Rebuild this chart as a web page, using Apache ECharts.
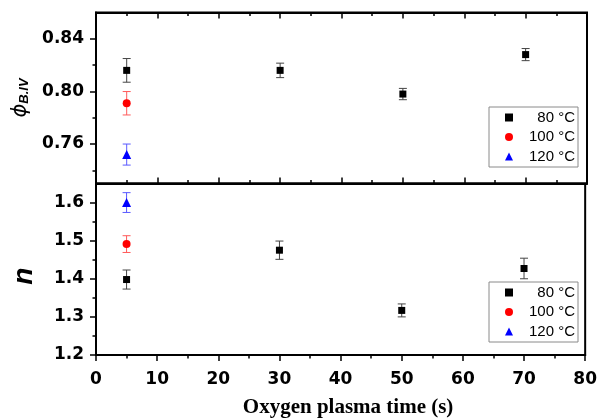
<!DOCTYPE html>
<html>
<head>
<meta charset="utf-8">
<script src="https://cdn.jsdelivr.net/npm/echarts@6/dist/echarts.min.js"></script>
<style>html,body{margin:0;padding:0;background:#fff}#c{width:600px;height:419px}</style>
</head>
<body>
<div id="c"></div>
<script>
// ---- data ----
const seriesNames = ['80 °C', '100 °C', '120 °C'];
const time80 = [5, 30, 50, 70];
const time100 = [5];
const time120 = [5];
const phi80 = [0.816, 0.816, 0.798, 0.828];
const phi80Err = [0.009, 0.0055, 0.0043, 0.0046];
const phi100 = [0.791];
const phi100Err = [0.0089];
const phi120 = [0.752];
const phi120Err = [0.008];
const n80 = [1.398, 1.475, 1.317, 1.427];
const n80Err = [0.025, 0.024, 0.017, 0.027];
const n100 = [1.491];
const n100Err = [0.022];
const n120 = [1.600];
const n120Err = [0.026];
const xTicks = [0, 10, 20, 30, 40, 50, 60, 70, 80];
const phiMajor = [0.76, 0.80, 0.84];
const phiMinor = [0.74, 0.78, 0.82];
const nMajor = [1.2, 1.3, 1.4, 1.5, 1.6];
const nMinor = [1.25, 1.35, 1.45, 1.55];

// ---- build ----
const zip = (xs, ys) => xs.map((x, i) => [x, ys[i]]);
const zip3 = (xs, ys, es) => xs.map((x, i) => [x, ys[i], es[i]]);
const colors = ['#000000', '#ff0000', '#0000ff'];
const barColors = ['#444444', '#ff5a5a', '#5a5aff'];
const symbols = ['rect', 'circle', 'triangle'];
const sizes = [7, 8, 9];

function errSeries(data, xi, yi, color) {
  return {
    type: 'custom', xAxisIndex: xi, yAxisIndex: yi, silent: true, z: 1,
    data: data,
    renderItem: function (params, api) {
      const x = api.value(0), y = api.value(1), e = api.value(2);
      const top = api.coord([x, y + e]);
      const bot = api.coord([x, y - e]);
      const w = 4;
      const st = { stroke: color, lineWidth: 1 };
      return {
        type: 'group',
        children: [
          { type: 'line', shape: { x1: top[0], y1: top[1], x2: bot[0], y2: bot[1] }, style: st },
          { type: 'line', shape: { x1: top[0] - w, y1: top[1], x2: top[0] + w, y2: top[1] }, style: st },
          { type: 'line', shape: { x1: bot[0] - w, y1: bot[1], x2: bot[0] + w, y2: bot[1] }, style: st }
        ]
      };
    }
  };
}
function scat(name, data, xi, yi, k) {
  return {
    name: name, type: 'scatter', xAxisIndex: xi, yAxisIndex: yi, z: 3,
    symbol: symbols[k], symbolSize: sizes[k],
    itemStyle: { color: colors[k], opacity: 1 },
    data: data
  };
}

const tickFont = { fontFamily: 'DejaVu Sans', fontWeight: 'bold', fontSize: 17, color: '#000' };
const lineStyle = { color: '#000', width: 2 };

const grids = [
  { left: 96, right: 13, top: 12.5, height: 171, show: true, borderColor: '#000', borderWidth: 2 },
  { left: 96, right: 13, top: 183.5, height: 171.5, show: true, borderColor: '#000', borderWidth: 2 }
];

const xBase = { type: 'value', min: 0, max: 80, interval: 10, splitLine: { show: false } };
const xAxes = [
  Object.assign({}, xBase, { gridIndex: 0, position: 'bottom',
    axisLine: { lineStyle: lineStyle }, axisLabel: { show: false },
    axisTick: { inside: true, length: 6, lineStyle: { color: '#000', width: 1.5 } },
    minorTick: { show: true, splitNumber: 2, length: 3.5, lineStyle: { color: '#000', width: 1.5 } } }),
  Object.assign({}, xBase, { gridIndex: 0, position: 'top',
    axisLine: { lineStyle: lineStyle }, axisLabel: { show: false },
    axisTick: { inside: true, length: 6, lineStyle: { color: '#000', width: 1.5 } },
    minorTick: { show: true, splitNumber: 2, length: 3.5, lineStyle: { color: '#000', width: 1.5 } } }),
  Object.assign({}, xBase, { gridIndex: 1, position: 'bottom',
    axisLine: { lineStyle: lineStyle },
    axisLabel: Object.assign({ margin: 16, customValues: xTicks }, tickFont),
    axisTick: { inside: false, length: 6, lineStyle: { color: '#000', width: 1.5 } },
    minorTick: { show: true, splitNumber: 2, length: 3.5, lineStyle: { color: '#000', width: 1.5 } },
    name: 'Oxygen plasma time (s)', nameLocation: 'middle', nameGap: 42,
    nameTextStyle: { fontFamily: 'Liberation Serif', fontWeight: 'bold', fontSize: 21, color: '#000', padding: [0, 0, 0, 15] } })
];

const yAxes = [
  { type: 'value', gridIndex: 0, min: 0.73, max: 0.86, position: 'left', splitLine: { show: false },
    axisLine: { lineStyle: lineStyle },
    axisLabel: Object.assign({ margin: 12, customValues: phiMajor, formatter: v => v.toFixed(2) }, tickFont),
    axisTick: { length: 6, customValues: phiMajor, lineStyle: { color: '#000', width: 1.5 } },
    name: '{p|ϕ}{s|B.IV}', nameLocation: 'middle', nameGap: 61, nameRotate: 90,
    nameTextStyle: { rich: {
      p: { fontFamily: 'DejaVu Sans', fontStyle: 'italic', fontSize: 21, color: '#000' },
      s: { fontFamily: 'Liberation Sans', fontStyle: 'italic', fontWeight: 'bold', fontSize: 13, color: '#000', padding: [8, 0, 0, 0] }
    } } },
  { type: 'value', gridIndex: 0, min: 0.73, max: 0.86, position: 'left', splitLine: { show: false },
    axisLine: { show: false }, axisLabel: { show: false },
    axisTick: { length: 3.5, customValues: phiMinor, lineStyle: { color: '#000', width: 1.5 } } },
  { type: 'value', gridIndex: 1, min: 1.2, max: 1.65, position: 'left', splitLine: { show: false },
    axisLine: { lineStyle: lineStyle },
    axisLabel: Object.assign({ margin: 12, customValues: nMajor, formatter: v => v.toFixed(1) }, tickFont),
    axisTick: { length: 6, customValues: nMajor, lineStyle: { color: '#000', width: 1.5 } },
    name: 'n', nameLocation: 'middle', nameGap: 58, nameRotate: 90,
    nameTextStyle: { fontFamily: 'Liberation Sans', fontStyle: 'italic', fontWeight: 'bold', fontSize: 28, color: '#000', padding: [0, 14, 0, 0] } },
  { type: 'value', gridIndex: 1, min: 1.2, max: 1.65, position: 'left', splitLine: { show: false },
    axisLine: { show: false }, axisLabel: { show: false },
    axisTick: { length: 3.5, customValues: nMinor, lineStyle: { color: '#000', width: 1.5 } } }
];

function legendAt(top) {
  return {
    orient: 'vertical', left: 489, top: top,
    padding: [3, 3, 3, 16], itemWidth: 8, itemHeight: 8, itemGap: 4.5,
    itemTextGap: 8, borderColor: '#8a8a8a', borderWidth: 1, backgroundColor: '#fff',
    selectedMode: false,
    data: seriesNames,
    formatter: name => '{r|' + name + '}',
    textStyle: { rich: { r: { width: 57, align: 'right', fontFamily: 'Liberation Sans', fontSize: 15, lineHeight: 18, color: '#000' } } }
  };
}

const series = [
  errSeries(zip3(time80, phi80, phi80Err), 0, 0, barColors[0]),
  errSeries(zip3(time100, phi100, phi100Err), 0, 0, barColors[1]),
  errSeries(zip3(time120, phi120, phi120Err), 0, 0, barColors[2]),
  scat(seriesNames[0], zip(time80, phi80), 0, 0, 0),
  scat(seriesNames[1], zip(time100, phi100), 0, 0, 1),
  scat(seriesNames[2], zip(time120, phi120), 0, 0, 2),
  errSeries(zip3(time80, n80, n80Err), 2, 2, barColors[0]),
  errSeries(zip3(time100, n100, n100Err), 2, 2, barColors[1]),
  errSeries(zip3(time120, n120, n120Err), 2, 2, barColors[2]),
  scat(seriesNames[0], zip(time80, n80), 2, 2, 0),
  scat(seriesNames[1], zip(time100, n100), 2, 2, 1),
  scat(seriesNames[2], zip(time120, n120), 2, 2, 2)
];

const chart = echarts.init(document.getElementById('c'), null, { renderer: 'canvas' });
chart.setOption({
  animation: false,
  backgroundColor: '#fff',
  grid: grids,
  xAxis: xAxes,
  yAxis: yAxes,
  legend: [legendAt(107), legendAt(282)],
  series: series
});
</script>
</body>
</html>
